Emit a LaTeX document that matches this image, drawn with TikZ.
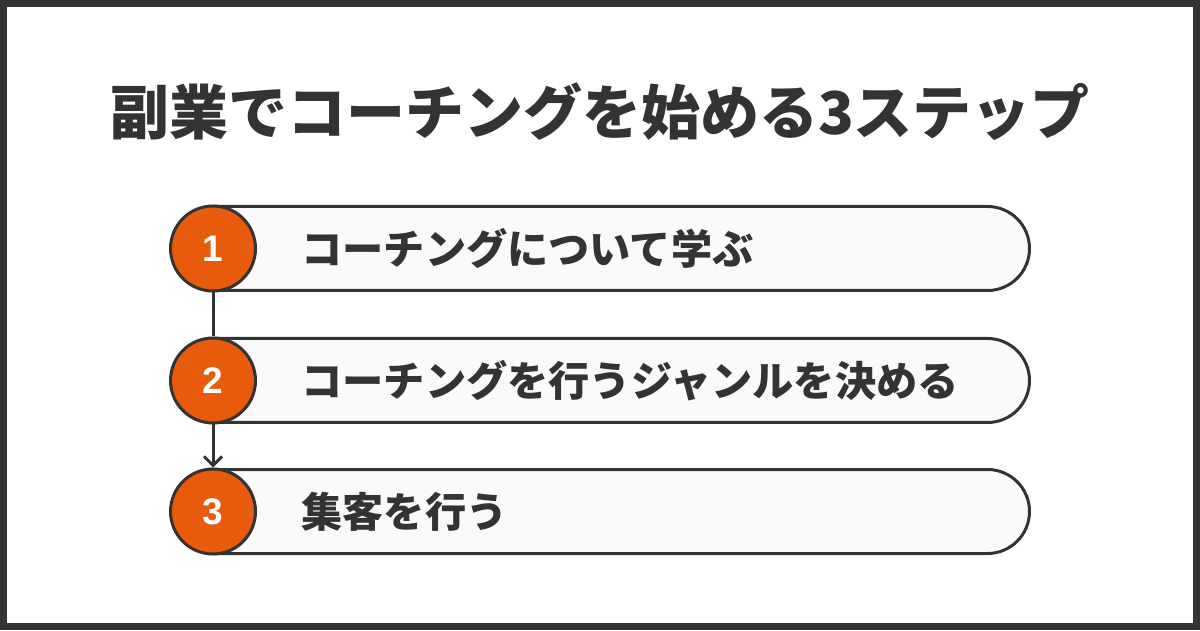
\documentclass[tikz,border=0pt]{standalone}
\usepackage{fontspec}
\setmainfont{Noto Sans CJK JP}
\newfontfamily\numfont{Liberation Sans}
\usepackage{tikz}
\usetikzlibrary{arrows.meta,shapes.misc}
\definecolor{ink}{HTML}{333333}
\definecolor{stepfill}{HTML}{E85A0C}
\definecolor{barfill}{HTML}{FAFAFA}

\begin{document}
\begin{tikzpicture}[x=1pt,y=1pt,
    stepbar/.style={rounded rectangle,rounded rectangle left arc=none,draw=ink,line width=3pt,fill=barfill,minimum width=815pt,minimum height=84pt,anchor=west,inner sep=0pt},
    stepnum/.style={circle,draw=ink,line width=3pt,fill=stepfill,minimum size=85pt,inner sep=0pt,text=white,font=\numfont\fontsize{37}{37}\selectfont\bfseries},
    steptext/.style={anchor=west,text=ink,font=\fontsize{41.2}{41.2}\selectfont\bfseries}]
        \useasboundingbox (0,0) rectangle (1200,630);
        \draw[ink,line width=7pt] (3.5,3.5) rectangle (1196.5,626.5); % frame
        \node[text=ink,font=\fontsize{59}{59}\selectfont\bfseries] (title) at (600,518) {副業でコーチングを始める3ステップ};
        \foreach \n/\y/\txt in {1/381.5/コーチングについて学ぶ,2/249.5/コーチングを行うジャンルを決める,3/118.5/集客を行う} % edit here for the steps
        {
        \node[stepbar] (bar\n) at (213,\y) {};
        \node[stepnum] (num\n) at (213,\y) {\n};
        \node[steptext] (txt\n) at (298,\y) {\txt};
        }
        \draw[ink,line width=3pt] (num1.south) -- (num2.north);
        \draw[ink,line width=3pt,-{Straight Barb[length=9pt,width=18pt,line width=3pt]}] (num2.south) -- (num3.north);
\end{tikzpicture}
\end{document}
